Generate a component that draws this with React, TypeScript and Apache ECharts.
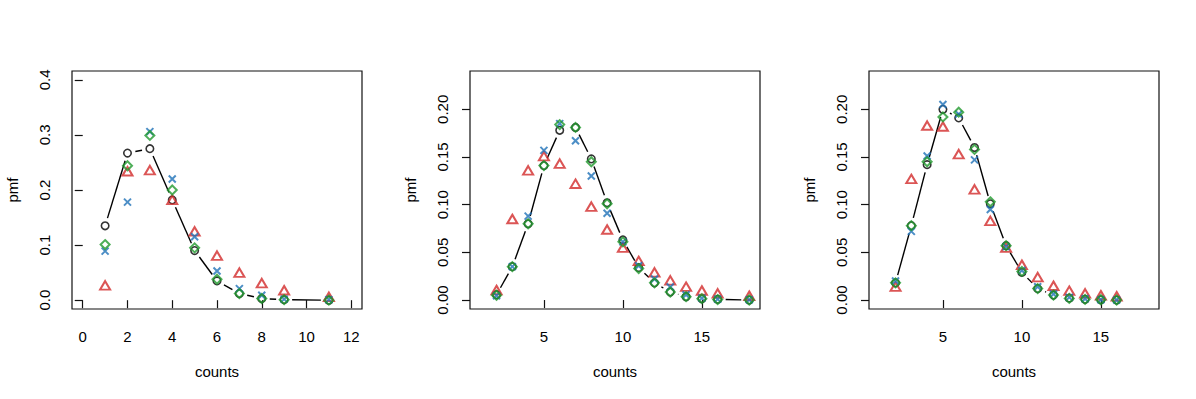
import React, { useEffect, useRef } from "react";
import * as echarts from "echarts";

// Panel 1
const counts1 = [1, 2, 3, 4, 5, 6, 7, 8, 9, 11];
const black1 = [0.135, 0.267, 0.275, 0.182, 0.090, 0.035, 0.012, 0.003, 0.001, 0.0];
const red1 = [0.027, 0.234, 0.236, 0.182, 0.125, 0.081, 0.050, 0.031, 0.018, 0.006];
const blue1 = [0.089, 0.178, 0.306, 0.220, 0.115, 0.053, 0.021, 0.009, 0.002, 0.001];
const green1 = [0.101, 0.244, 0.299, 0.200, 0.095, 0.038, 0.012, 0.003, 0.001, 0.0];

// Panel 2
const counts2 = [2, 3, 4, 5, 6, 7, 8, 9, 10, 11, 12, 13, 14, 15, 16, 18];
const black2 = [0.0056, 0.035, 0.080, 0.141, 0.178, 0.181, 0.148, 0.102, 0.063, 0.034, 0.018, 0.0084, 0.0035, 0.0014, 0.0007, 0.0];
const red2 = [0.0105, 0.085, 0.136, 0.151, 0.143, 0.122, 0.098, 0.074, 0.055, 0.041, 0.029, 0.0206, 0.014, 0.010, 0.007, 0.0045];
const blue2 = [0.0045, 0.035, 0.088, 0.157, 0.185, 0.167, 0.130, 0.091, 0.061, 0.036, 0.022, 0.0136, 0.0056, 0.002, 0.001, 0.0003];
const green2 = [0.005, 0.035, 0.080, 0.141, 0.184, 0.181, 0.145, 0.101, 0.061, 0.033, 0.018, 0.0084, 0.0035, 0.0014, 0.0005, 0.0];

// Panel 3
const counts3 = [2, 3, 4, 5, 6, 7, 8, 9, 10, 11, 12, 13, 14, 15, 16];
const black3 = [0.018, 0.078, 0.142, 0.200, 0.191, 0.160, 0.101, 0.057, 0.029, 0.012, 0.0052, 0.002, 0.0007, 0.0003, 0.0];
const red3 = [0.014, 0.127, 0.183, 0.182, 0.153, 0.116, 0.083, 0.055, 0.037, 0.024, 0.015, 0.0098, 0.007, 0.005, 0.004];
const blue3 = [0.020, 0.072, 0.151, 0.205, 0.195, 0.147, 0.095, 0.056, 0.031, 0.014, 0.0063, 0.0028, 0.0014, 0.0003, 0.0];
const green3 = [0.018, 0.078, 0.145, 0.192, 0.197, 0.158, 0.103, 0.057, 0.030, 0.012, 0.0052, 0.0017, 0.0007, 0.0003, 0.0];

// Tick labels
const xTicks1 = [0, 2, 4, 6, 8, 10, 12];
const yTicks1 = [0, 0.1, 0.2, 0.3, 0.4];
const xTicks23 = [5, 10, 15];
const yTicks23 = [0, 0.05, 0.1, 0.15, 0.2];

const RED = "#d22b2b";
const BLUE = "#1f72b8";
const GREEN = "#229a2e";
const FONT = "Liberation Sans, Arial, Helvetica, sans-serif";
const XPATH = "path://M0,0L10,10M10,0L0,10";

const panels = [
  { left: 72, counts: counts1, black: black1, red: red1, blue: blue1, green: green1, xTicks: xTicks1, yTicks: yTicks1, xMin: -0.48, xMax: 12.48, yMin: -0.016, yMax: 0.416, dec: 1 },
  { left: 470, counts: counts2, black: black2, red: red2, blue: blue2, green: green2, xTicks: xTicks23, yTicks: yTicks23, xMin: 0.32, xMax: 18.68, yMin: -0.0094, yMax: 0.2402, dec: 2 },
  { left: 869, counts: counts3, black: black3, red: red3, blue: blue3, green: green3, xTicks: xTicks23, yTicks: yTicks23, xMin: 0.32, xMax: 18.68, yMin: -0.0094, yMax: 0.2402, dec: 2 },
];

function pairs(xs: number[], ys: number[]) {
  return xs.map((x, i) => [x, ys[i]]);
}

function segments(xs: number[], ys: number[]) {
  const out: number[][] = [];
  for (let i = 0; i < xs.length - 1; i++) out.push([xs[i], ys[i], xs[i + 1], ys[i + 1]]);
  return out;
}

const GAP = 8;

function buildOption() {
  const grid: any[] = [];
  const xAxis: any[] = [];
  const yAxis: any[] = [];
  const series: any[] = [];
  panels.forEach((p, i) => {
    grid.push({ left: p.left, top: 71, width: 290, height: 238, show: true, borderColor: "#111", borderWidth: 1.2, backgroundColor: "transparent" });
    xAxis.push({
      type: "value", gridIndex: i, min: p.xMin, max: p.xMax,
      name: "counts", nameLocation: "middle", nameGap: 55,
      nameTextStyle: { color: "#000", fontSize: 15, fontFamily: FONT },
      axisLine: { show: false }, splitLine: { show: false },
      axisTick: { show: true, length: 8, lineStyle: { color: "#111", width: 1.2 }, customValues: p.xTicks },
      axisLabel: { show: true, color: "#000", fontSize: 15, fontFamily: FONT, margin: 20, customValues: p.xTicks, formatter: (v: number) => String(v) },
    });
    yAxis.push({
      type: "value", gridIndex: i, min: p.yMin, max: p.yMax,
      name: "pmf", nameLocation: "middle", nameGap: 52, nameRotate: 90,
      nameTextStyle: { color: "#000", fontSize: 15, fontFamily: FONT },
      axisLine: { show: false }, splitLine: { show: false },
      axisTick: { show: true, length: 8, lineStyle: { color: "#111", width: 1.2 }, customValues: p.yTicks },
      axisLabel: { show: true, color: "#000", fontSize: 15, fontFamily: FONT, margin: 20, rotate: 90, customValues: p.yTicks, formatter: (v: number) => v.toFixed(p.dec) },
    });
    series.push({
      type: "custom", xAxisIndex: i, yAxisIndex: i, silent: true,
      data: segments(p.counts, p.black),
      encode: { x: [0, 2], y: [1, 3] },
      renderItem: (params: any, api: any) => {
        const a = api.coord([api.value(0), api.value(1)]);
        const b = api.coord([api.value(2), api.value(3)]);
        const dx = b[0] - a[0];
        const dy = b[1] - a[1];
        const len = Math.sqrt(dx * dx + dy * dy);
        if (len <= 2 * GAP) return { type: "group", children: [] };
        const ux = dx / len, uy = dy / len;
        return {
          type: "line",
          shape: { x1: a[0] + ux * GAP, y1: a[1] + uy * GAP, x2: b[0] - ux * GAP, y2: b[1] - uy * GAP },
          style: { stroke: "#000", lineWidth: 1.4 },
        };
      },
    });
    series.push({
      type: "scatter", xAxisIndex: i, yAxisIndex: i, symbol: "circle", symbolSize: 7.5,
      itemStyle: { color: "transparent", borderColor: "#000", borderWidth: 1.6 },
      data: pairs(p.counts, p.black),
    });
    series.push({
      type: "scatter", xAxisIndex: i, yAxisIndex: i, symbol: "triangle", symbolSize: [10, 8.5],
      itemStyle: { color: "transparent", borderColor: RED, borderWidth: 2 },
      data: pairs(p.counts, p.red),
    });
    series.push({
      type: "scatter", xAxisIndex: i, yAxisIndex: i, symbol: XPATH, symbolSize: 7,
      itemStyle: { color: "transparent", borderColor: BLUE, borderWidth: 2 },
      data: pairs(p.counts, p.blue),
    });
    series.push({
      type: "scatter", xAxisIndex: i, yAxisIndex: i, symbol: "diamond", symbolSize: [9, 9],
      itemStyle: { color: "transparent", borderColor: GREEN, borderWidth: 2 },
      data: pairs(p.counts, p.green),
    });
  });
  return { animation: false, backgroundColor: "#fff", grid, xAxis, yAxis, series };
}

export default function App() {
  const ref = useRef<HTMLDivElement>(null);
  useEffect(() => {
    if (!ref.current) return;
    const chart = echarts.init(ref.current, null, { renderer: "svg" });
    chart.setOption(buildOption() as any);
    return () => chart.dispose();
  }, []);
  return <div ref={ref} style={{ position: "fixed", left: 0, top: 0, width: 1196, height: 399 }} />;
}
